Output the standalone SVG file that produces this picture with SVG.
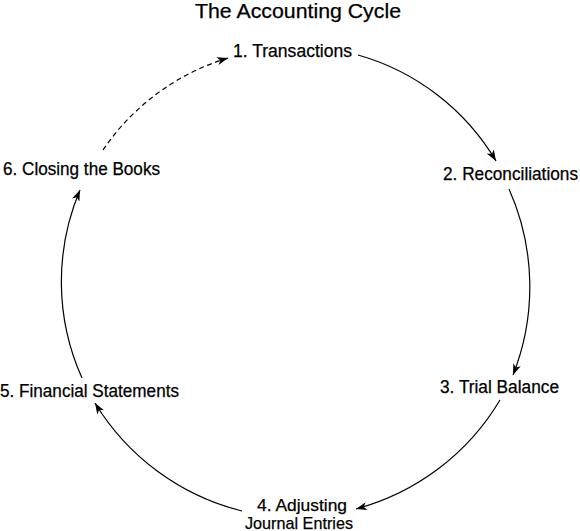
<svg xmlns="http://www.w3.org/2000/svg" width="580" height="531" viewBox="0 0 580 531">
<defs>
<style>
.t{font-family:"Liberation Sans",Arial,sans-serif;fill:#000;stroke:#000;stroke-width:0.25}
.lbl{font-size:17.5px}
.sm{font-size:17px}
.ttl{font-size:20px}
.c{fill:none;stroke:#000;stroke-width:1.2}
.d{stroke-dasharray:5 3.5}
</style>
<marker id="ah" markerWidth="12" markerHeight="8" refX="11" refY="4" orient="auto" markerUnits="userSpaceOnUse">
<path d="M0,0 L11,4 L0,8 L3,4 z" fill="#000"/>
</marker>
</defs>
<rect width="580" height="531" fill="#fff"/>
<text class="t ttl" x="195" y="17.5" textLength="206" lengthAdjust="spacingAndGlyphs">The Accounting Cycle</text>
<g id="connectors">
<path class="c" d="M358,55 A235,235 0 0 1 496,161" marker-end="url(#ah)"/>
<path class="c" d="M509,189 A240,240 0 0 1 513,375" marker-end="url(#ah)"/>
<path class="c" d="M500,400 A240,240 0 0 1 356,509" marker-end="url(#ah)"/>
<path class="c" d="M242,511 A240,240 0 0 1 95,403" marker-end="url(#ah)"/>
<path class="c" d="M82,378 A235,235 0 0 1 80,190" marker-end="url(#ah)"/>
<path class="c d" d="M103,150 A232,232 0 0 1 228,58" marker-end="url(#ah)"/>
</g>
<g id="n1"><text class="t lbl" x="233" y="57" textLength="119" lengthAdjust="spacingAndGlyphs">1. Transactions</text></g>
<g id="n2"><text class="t lbl" x="443" y="180" textLength="135" lengthAdjust="spacingAndGlyphs">2. Reconciliations</text></g>
<g id="n3"><text class="t lbl" x="440" y="393" textLength="119" lengthAdjust="spacingAndGlyphs">3. Trial Balance</text></g>
<g id="n4"><text class="t sm" x="257" y="510.5" textLength="90" lengthAdjust="spacingAndGlyphs">4. Adjusting</text><text class="t sm" x="245" y="528.5" textLength="108" lengthAdjust="spacingAndGlyphs">Journal Entries</text></g>
<g id="n5"><text class="t lbl" x="0" y="397" textLength="179" lengthAdjust="spacingAndGlyphs">5. Financial Statements</text></g>
<g id="n6"><text class="t lbl" x="3" y="175" textLength="157" lengthAdjust="spacingAndGlyphs">6. Closing the Books</text></g>
</svg>
